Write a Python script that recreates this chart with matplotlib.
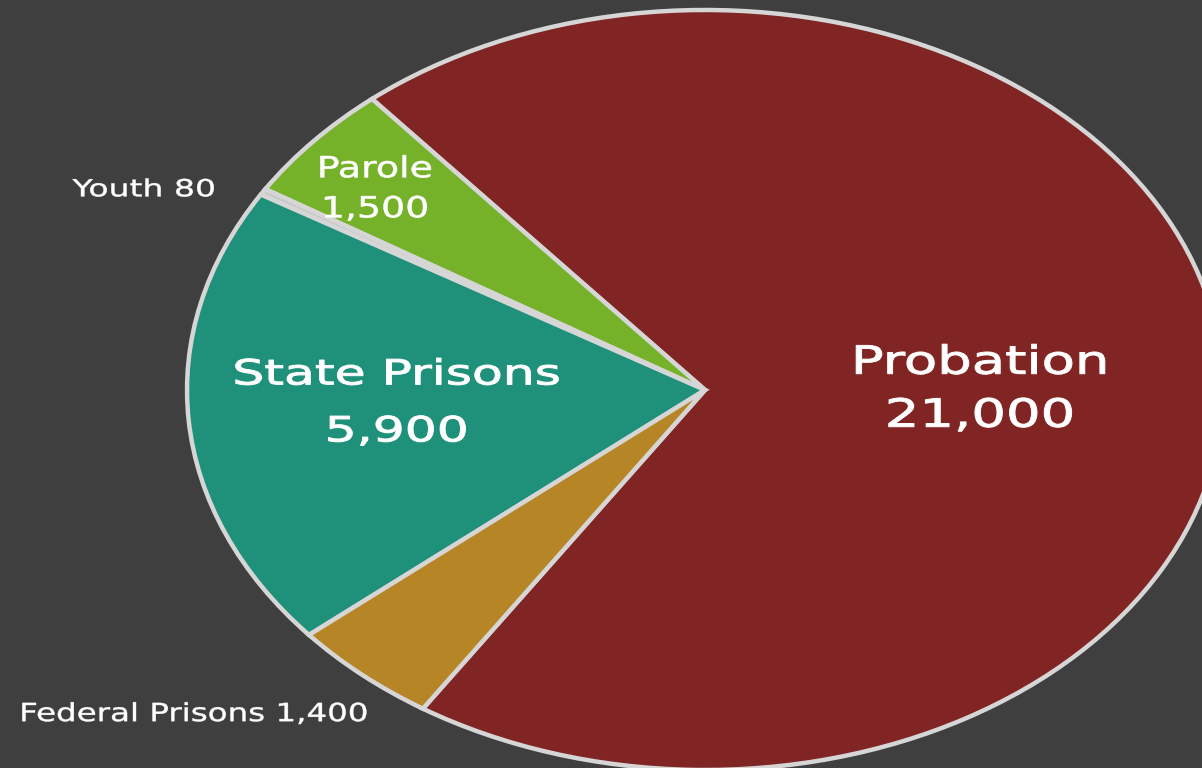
import matplotlib.pyplot as plt
import numpy as np
from matplotlib.patheffects import AbstractPathEffect
from matplotlib.transforms import Affine2D

# Data
categories = ['Probation', 'Parole', 'Youth', 'State Prisons', 'Federal Prisons']
values = [21000, 1500, 80, 5900, 1400]
value_labels = ['21,000', '1,500', '80', '5,900', '1,400']
colors = ['#802424', '#76b12a', '#c8c8c8', '#1f9079', '#b68526']


class StretchX(AbstractPathEffect):
    """Widen the glyphs horizontally around each line's centre (reference text is stretched),
    with a thin outline so the strokes look a little heavier."""
    def __init__(self, sx, lw=0.9):
        super().__init__()
        self.sx = sx
        self.lw = lw

    def draw_path(self, renderer, gc, tpath, affine, rgbFace=None):
        ext = tpath.get_extents(affine)
        cx = (ext.x0 + ext.x1) / 2
        new = affine + Affine2D().translate(-cx, 0).scale(self.sx, 1).translate(cx, 0)
        gc0 = renderer.new_gc()
        gc0.copy_properties(gc)
        gc0.set_linewidth(self.lw)
        gc0.set_foreground(rgbFace)
        renderer.draw_path(gc0, tpath, new, rgbFace)
        gc0.restore()


bg = '#3f3f3f'
fig = plt.figure(figsize=(12.02, 7.68), dpi=100, facecolor=bg)
ax = fig.add_axes([0.1556, -0.0026, 0.8619, 0.9896])
ax.set_facecolor(bg)

wedges, _ = ax.pie(values, colors=colors, startangle=237, counterclock=True,
                   wedgeprops=dict(edgecolor='#d6d6d6', linewidth=3.2, clip_on=False))
ax.set_aspect('auto')
ax.set_xlim(-1, 1)
ax.set_ylim(-1, 1)
ax.axis('off')

font = 'DejaVu Sans'
# label: (x, y, fontsize, linespacing, stretch, outline width, two lines?)
label_style = {
    'Probation': (0.531, 0.002, 28, 1.5, 1.4, 0.7, True),
    'Parole': (-0.637, 0.528, 21, 1.55, 1.3, 0.4, True),
    'Youth': (-1.083, 0.528, 17, 1.2, 1.4, 0.3, False),
    'State Prisons': (-0.595, -0.034, 25, 1.85, 1.45, 0.7, True),
    'Federal Prisons': (-0.986, -0.853, 18, 1.2, 1.3, 0.3, False),
}
for cat, val in zip(categories, value_labels):
    x, y, fs, ls, sx, lw, two = label_style[cat]
    txt = f'{cat}\n{val}' if two else f'{cat} {val}'
    ax.text(x, y, txt, color='white', fontsize=fs, ha='center', va='center',
            family=font, linespacing=ls, path_effects=[StretchX(sx, lw)])

fig.savefig('out.png', dpi=100, facecolor=bg)
